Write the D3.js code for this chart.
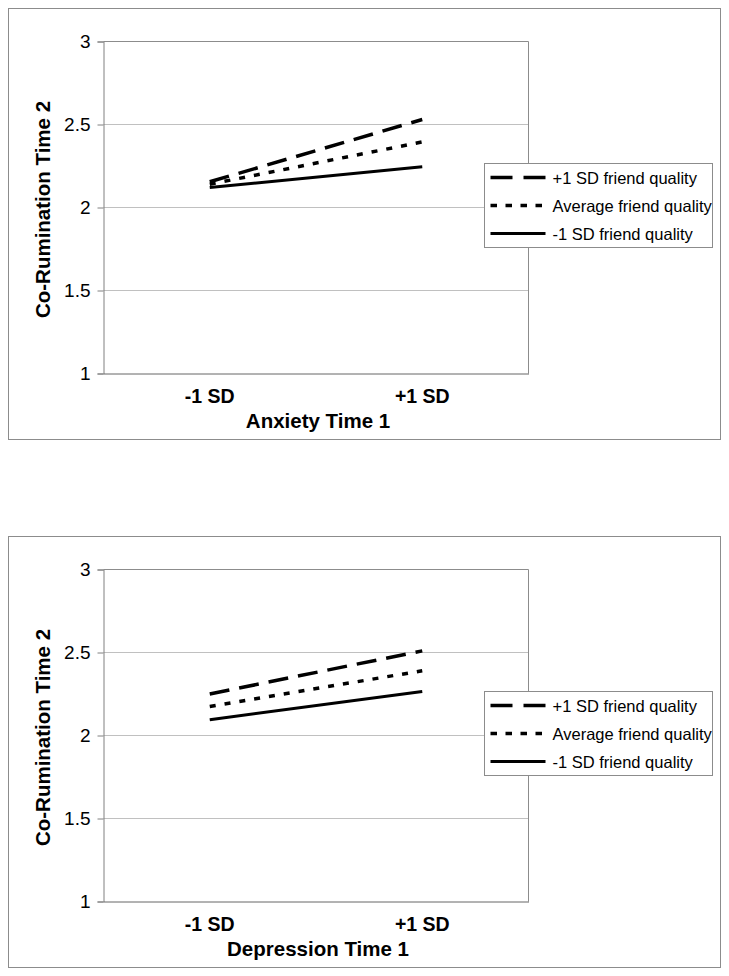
<!DOCTYPE html>
<html>
<head>
<meta charset="utf-8">
<script src="https://cdn.jsdelivr.net/npm/d3@7"></script>
<style>
  html, body { margin: 0; padding: 0; background: #fff; }
  svg { display: block; }
  text { font-family: "Liberation Sans", Arial, sans-serif; fill: #000; }
</style>
</head>
<body>
<svg id="chart" width="729" height="976"></svg>
<script>
// ---- data ----
const categories = ["-1 SD", "+1 SD"];
const seriesNames = ["+1 SD friend quality", "Average friend quality", "-1 SD friend quality"];
const yTicks = [1, 1.5, 2, 2.5, 3];
const yTickLabels = ["1", "1.5", "2", "2.5", "3"];
const yTitle = "Co-Rumination Time 2";

const anxietyPlus = [2.155, 2.53];
const anxietyAvg = [2.14, 2.395];
const anxietyMinus = [2.12, 2.245];

const depressionPlus = [2.25, 2.51];
const depressionAvg = [2.175, 2.39];
const depressionMinus = [2.095, 2.265];

const panels = [
  { xTitle: "Anxiety Time 1", series: [anxietyPlus, anxietyAvg, anxietyMinus] },
  { xTitle: "Depression Time 1", series: [depressionPlus, depressionAvg, depressionMinus] }
];

// ---- styles ----
const dashStyles = ["20,10", "6,9", null];
const legendDash = ["22,11", "6.5,8.5", null];
const widths = [3.5, 3.5, 3];

const svg = d3.select("#chart");
const panelOffsets = [8, 536];
const frameW = 712, frameH = 431;
const plot = { left: 95, top: 33, right: 520, bottom: 365 };

panels.forEach((p, i) => {
  const g = svg.append("g").attr("transform", `translate(8.5,${panelOffsets[i] + 0.5})`);

  g.append("rect").attr("x", 0).attr("y", 0).attr("width", frameW).attr("height", frameH)
    .attr("fill", "#fff").attr("stroke", "#8c8c8c").attr("stroke-width", 1);

  const x = d3.scaleBand().domain(categories).range([plot.left, plot.right]).padding(0);
  const y = d3.scaleLinear().domain([1, 3]).range([plot.bottom, plot.top]);

  // gridlines
  g.append("g").selectAll("line").data(yTicks.filter(t => t > 1 && t < 3)).join("line")
    .attr("x1", plot.left).attr("x2", plot.right)
    .attr("y1", d => Math.round(y(d))).attr("y2", d => Math.round(y(d)))
    .attr("stroke", "#c0c0c0").attr("stroke-width", 1);

  // plot area border (top/right)
  g.append("path")
    .attr("d", `M${plot.left},${plot.top}H${plot.right}V${plot.bottom}`)
    .attr("fill", "none").attr("stroke", "#8c8c8c").attr("stroke-width", 1);

  // y axis
  const yAxis = d3.axisLeft(y).tickValues(yTicks)
    .tickFormat((d, k) => yTickLabels[k]).tickSize(6).tickPadding(7);
  const ya = g.append("g").attr("transform", `translate(${plot.left},0)`).call(yAxis);
  ya.select(".domain").attr("stroke", "#808080");
  ya.selectAll(".tick line").attr("stroke", "#808080");
  ya.selectAll(".tick text").attr("font-size", 19).attr("font-family", "Liberation Sans, Arial, sans-serif")
    .attr("fill", "#000");

  // x axis
  const xAxis = d3.axisBottom(x).tickSize(0).tickPadding(16);
  const xa = g.append("g").attr("transform", `translate(0,${plot.bottom})`).call(xAxis);
  xa.select(".domain").attr("stroke", "#666");
  xa.selectAll(".tick text").attr("font-size", 19.5).attr("font-weight", "bold")
    .attr("font-family", "Liberation Sans, Arial, sans-serif").attr("fill", "#000");

  // axis titles
  g.append("text").attr("x", (plot.left + plot.right) / 2 + 2).attr("y", 419)
    .attr("text-anchor", "middle").attr("font-size", 20.5).attr("font-weight", "bold").text(p.xTitle);
  g.append("text").attr("transform", `translate(41,${(plot.top + plot.bottom) / 2 + 2}) rotate(-90)`)
    .attr("text-anchor", "middle").attr("font-size", 20.5).attr("font-weight", "bold").text(yTitle);

  // lines
  const line = d3.line().x((d, k) => x(categories[k]) + x.bandwidth() / 2).y(d => y(d));
  p.series.forEach((s, k) => {
    g.append("path").datum(s).attr("d", line)
      .attr("fill", "none").attr("stroke", "#000").attr("stroke-width", widths[k])
      .attr("stroke-dasharray", dashStyles[k]);
  });

  // legend
  const lg = g.append("g").attr("transform", "translate(476,155)");
  lg.append("rect").attr("width", 228).attr("height", 84)
    .attr("fill", "#fff").attr("stroke", "#8c8c8c").attr("stroke-width", 1);
  seriesNames.forEach((name, k) => {
    const ry = 14 + k * 28;
    lg.append("line").attr("x1", 6).attr("x2", 61).attr("y1", ry).attr("y2", ry)
      .attr("stroke", "#000").attr("stroke-width", widths[k])
      .attr("stroke-dasharray", legendDash[k]);
    lg.append("text").attr("x", 68).attr("y", ry + 6).attr("font-size", 16.5).text(name);
  });
});
</script>
</body>
</html>
